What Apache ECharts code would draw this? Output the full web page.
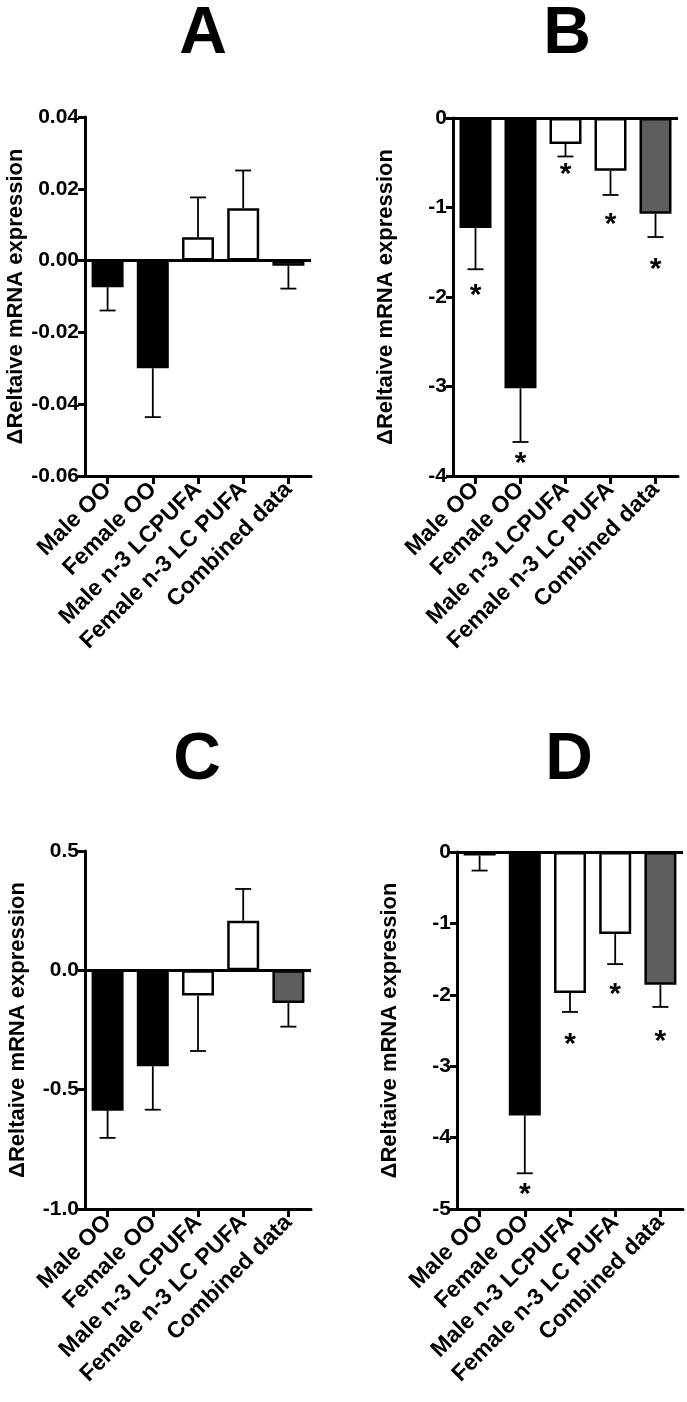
<!DOCTYPE html>
<html><head><meta charset="utf-8">
<script src="https://cdn.jsdelivr.net/npm/echarts@6/dist/echarts.min.js"></script>
<style>html,body{margin:0;padding:0;background:#fff}#c{width:687px;height:1402px}</style>
</head><body><div id="c"></div>
<script>
// ---------- data ----------
const categories = ['Male OO', 'Female OO', 'Male n-3 LCPUFA', 'Female n-3 LC PUFA', 'Combined data'];
const barColors = ['#000000', '#000000', '#ffffff', '#ffffff', '#5e5e5e'];
const yAxisTitle = 'ΔReltaive mRNA expression';
const panelLetters = ['A', 'B', 'C', 'D'];

const meanA = [-0.0074, -0.0300, 0.0065, 0.0146, -0.0014];
const errA  = [-0.0139, -0.0436, 0.0176, 0.0251, -0.0078];
const starA = [null, null, null, null, null];
const ticksA = [-0.06, -0.04, -0.02, 0.00, 0.02, 0.04];

const meanB = [-1.23, -3.02, -0.29, -0.59, -1.07];
const errB  = [-1.69, -3.62, -0.43, -0.86, -1.33];
const starB = [-1.91, -3.79, -0.56, -1.11, -1.62];
const ticksB = [-4, -3, -2, -1, 0];

const meanC = [-0.588, -0.402, -0.105, 0.208, -0.137];
const errC  = [-0.702, -0.584, -0.338, 0.341, -0.236];
const starC = [null, null, null, null, null];
const ticksC = [-1.0, -0.5, 0.0, 0.5];

const meanD = [-0.05, -3.69, -1.975, -1.15, -1.86];
const errD  = [-0.26, -4.50, -2.24, -1.57, -2.17];
const starD = [null, -4.70, -2.60, -1.90, -2.56];
const ticksD = [-5, -4, -3, -2, -1, 0];

// ---------- layout ----------
const FONT = '"Liberation Sans", Arial, sans-serif';
const panels = [
  {mean: meanA, err: errA, star: starA, ticks: ticksA, dec: 2, grid: {left: 85, top: 117, width: 226, height: 359}, letter: {x: 203, y: 35}},
  {mean: meanB, err: errB, star: starB, ticks: ticksB, dec: 0, grid: {left: 453, top: 118, width: 225, height: 358}, letter: {x: 567, y: 35}},
  {mean: meanC, err: errC, star: starC, ticks: ticksC, dec: 1, grid: {left: 85, top: 851, width: 226, height: 358}, letter: {x: 197, y: 761}},
  {mean: meanD, err: errD, star: starD, ticks: ticksD, dec: 0, grid: {left: 457, top: 852, width: 226, height: 357}, letter: {x: 569, y: 761}}
];

const grids = [], xAxes = [], yAxes = [], series = [], graphics = [];
panels.forEach((p, i) => {
  grids.push(p.grid);
  xAxes.push({
    type: 'category', gridIndex: i, data: categories,
    axisLine: {onZero: false, lineStyle: {color: '#000', width: 3}},
    axisTick: {show: true, alignWithLabel: true, length: 8, lineStyle: {color: '#000', width: 3}},
    axisLabel: {rotate: 45, margin: 10, color: '#000', fontSize: 23, fontWeight: 'bold', fontFamily: FONT, interval: 0},
    splitLine: {show: false}
  });
  const t = p.ticks;
  yAxes.push({
    type: 'value', gridIndex: i,
    min: t[0], max: t[t.length - 1], interval: +(t[1] - t[0]).toFixed(6),
    name: yAxisTitle, nameLocation: 'middle', nameGap: 56, nameRotate: 90,
    nameTextStyle: {color: '#000', fontSize: 22, fontWeight: 'bold', fontFamily: FONT},
    axisLine: {show: true, lineStyle: {color: '#000', width: 3}},
    axisTick: {show: true, length: 7, lineStyle: {color: '#000', width: 3}},
    axisLabel: {margin: 6, color: '#000', fontSize: 21, fontWeight: 'bold', fontFamily: FONT,
      formatter: v => (Math.abs(v) < 1e-9 ? 0 : v).toFixed(p.dec)},
    splitLine: {show: false}
  });
  series.push({
    type: 'bar', xAxisIndex: i, yAxisIndex: i, barWidth: 32,
    data: p.mean.map((v, k) => ({value: v, itemStyle: {color: barColors[k]}})),
    itemStyle: {borderColor: '#000', borderWidth: 2.5},
    markLine: {silent: true, symbol: 'none', label: {show: false},
      lineStyle: {color: '#000', width: 3, type: 'solid'}, data: [{yAxis: 0}]},
    z: 2
  });
  series.push({
    type: 'custom', xAxisIndex: i, yAxisIndex: i, z: 3,
    data: p.mean.map((v, k) => [k, v, p.err[k]]),
    encode: {x: 0, y: [1, 2]},
    renderItem: (params, api) => {
      const k = api.value(0);
      const a = api.coord([k, api.value(1)]);
      const b = api.coord([k, api.value(2)]);
      const hw = 8;
      return {type: 'group', children: [
        {type: 'line', shape: {x1: a[0], y1: a[1], x2: b[0], y2: b[1]}, style: {stroke: '#000', lineWidth: 1.8}},
        {type: 'line', shape: {x1: b[0] - hw, y1: b[1], x2: b[0] + hw, y2: b[1]}, style: {stroke: '#000', lineWidth: 1.8}}
      ]};
    }
  });
  const starData = p.star.map((v, k) => v === null ? null : [k, v]).filter(d => d);
  if (starData.length) {
    series.push({
      type: 'custom', xAxisIndex: i, yAxisIndex: i, z: 4,
      data: starData, encode: {x: 0, y: 1},
      renderItem: (params, api) => {
        const c = api.coord([api.value(0), api.value(1)]);
        return {type: 'text', x: c[0], y: c[1] + 7,
          style: {text: '*', fill: '#000', font: 'bold 30px ' + FONT, textAlign: 'center', textVerticalAlign: 'middle'}};
      }
    });
  }
  graphics.push({type: 'text', x: p.letter.x, y: p.letter.y,
    style: {text: panelLetters[i], fill: '#000', font: 'bold 66px ' + FONT, textAlign: 'center', textVerticalAlign: 'middle'}});
});

const chart = echarts.init(document.getElementById('c'), null, {renderer: 'canvas'});
chart.setOption({
  backgroundColor: '#fff',
  animation: false,
  grid: grids, xAxis: xAxes, yAxis: yAxes, series: series, graphic: graphics
});
</script></body></html>
